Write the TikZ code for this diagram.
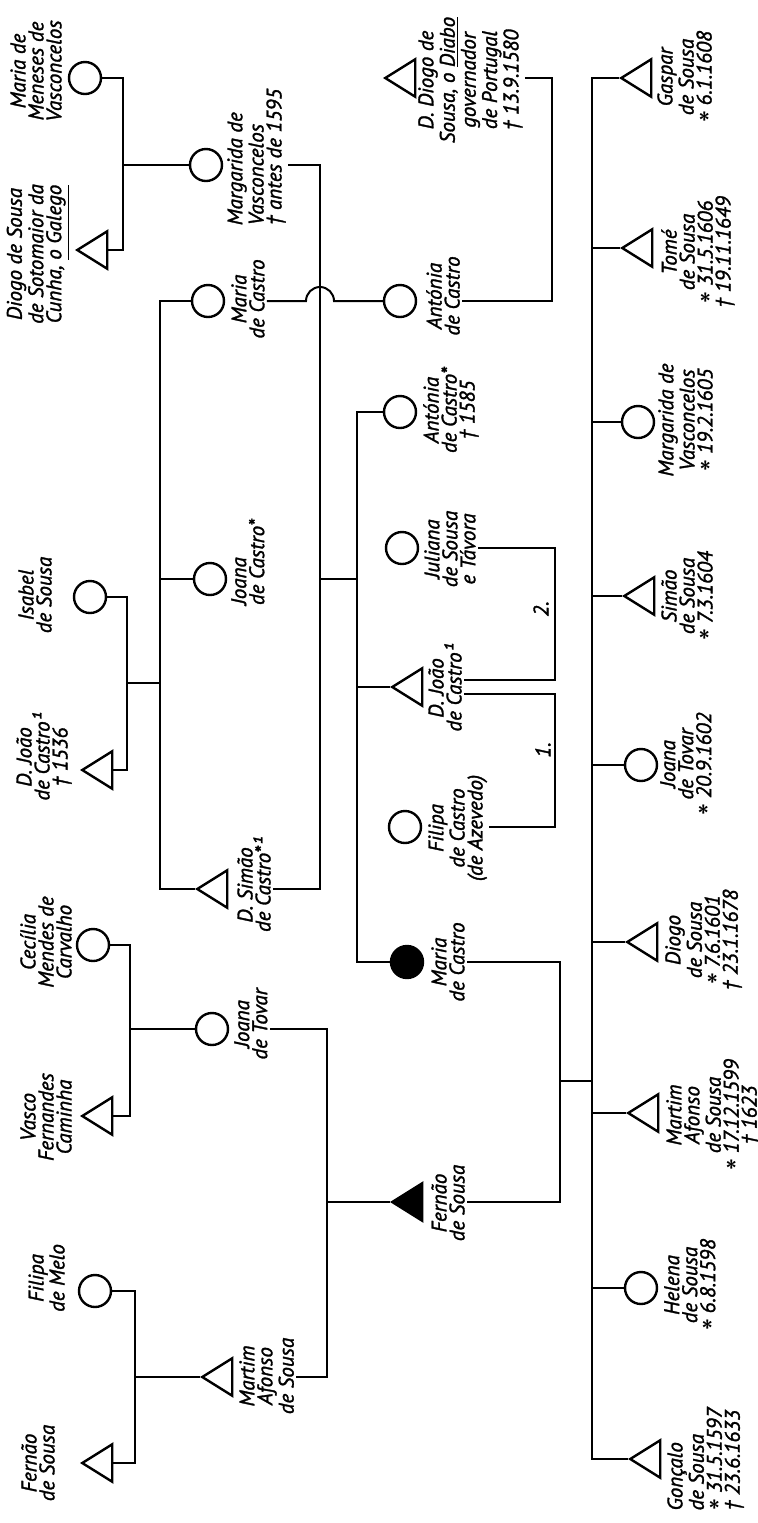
\documentclass[tikz,border=0pt]{standalone}
\usepackage{fontspec}
\setmainfont{PT Sans}[ItalicFeatures={FakeBold=1.5}]
\usepackage{tikz}
\usetikzlibrary{shapes.geometric}

\newcommand{\nat}{\raisebox{-6.3pt}[4pt][0pt]{\upshape\fontsize{17}{17}\selectfont *}}

\begin{document}
\begin{tikzpicture}[x=0.5pt,y=-0.5pt,
  man/.style={isosceles triangle,isosceles triangle apex angle=64,shape border rotate=180,
    draw,line width=1.2pt,inner sep=0pt,minimum width=15pt,minimum height=15pt,anchor=apex},
  woman/.style={circle,draw,line width=1.2pt,inner sep=0pt,minimum size=16pt},
  txt/.style={rotate=90,align=center,inner sep=1pt,font=\itshape\fontsize{10.5}{9}\selectfont},
  rtxt/.style={txt,anchor=north},
  ltxt/.style={txt,anchor=south},
  link/.style={line width=1pt}]
  \useasboundingbox (0,0) rectangle (757,1523);

  % Grandparents
  \node[woman] (mmv) at (85,78) {};
  \node[man] (dsg) at (75,250) {};
  \node[woman] (isa) at (90,597) {};
  \node[man] (jc1) at (80,770) {};
  \node[woman] (cmc) at (93,945) {};
  \node[man] (vfc) at (80,1116) {};
  \node[woman] (fm) at (95,1291) {};
  \node[man] (fs1) at (80,1463) {};
  \node[ltxt] (mmvT) at (64,71) {Maria de\\Meneses de\\Vasconcelos};
  \node[ltxt] (dsgT) at (72,254) {Diogo de Sousa\\de Sotomaior da\\Cunha, \underline{o Galego}};
  \node[ltxt] (isaT) at (54,595) {Isabel\\de Sousa};
  \node[ltxt] (jc1T) at (74,757) {D. João\\de Castro¹\\† 1536};
  \node[ltxt] (cmcT) at (74,942) {Cecília\\Mendes de\\Carvalho};
  \node[ltxt] (vfcT) at (74,1117) {Vasco\\Fernandes\\Caminha};
  \node[ltxt] (fmT) at (67,1278) {Filipa\\de Melo};
  \node[ltxt] (fs1T) at (57,1463) {Fernão\\de Sousa};

  % Parents
  \node[woman] (mv) at (206,165) {};
  \node[woman] (mc1) at (208,301) {};
  \node[woman] (jdc) at (210,579) {};
  \node[man] (dsc) at (195,889) {};
  \node[woman] (jt) at (212,1029) {};
  \node[man] (mas) at (200,1377) {};
  \node[rtxt,align=left] (mvT) at (225,157) {Margarida de\\Vasconcelos\\† antes de 1595};
  \node[rtxt] (mc1T) at (229,299) {Maria\\de Castro};
  \node[rtxt,align=left] (jdcT) at (229,562) {Joana\\de Castro*};
  \node[rtxt] (dscT) at (235,885) {D. Simão\\de Castro*¹};
  \node[rtxt] (jtT) at (232,1024) {Joana\\de Tovar};
  \node[rtxt] (masT) at (237,1376) {Martim\\Afonso\\de Sousa};

  % Castro and Sousa
  \node[man] (dds) at (383,78) {};
  \node[woman] (ac) at (400,301) {};
  \node[woman] (acs) at (400,412) {};
  \node[woman] (jst) at (402,548) {};
  \node[man] (djc) at (390,687) {};
  \node[woman] (fca) at (405,827) {};
  \node[woman,fill=black] (mcf) at (407,962) {};
  \node[man,fill=black] (fs2) at (390,1202) {};
  \node[rtxt] (ddsT) at (416,80) {D. Diogo de\\Sousa, o \underline{Diabo}\\governador\\de Portugal\\† 13.9.1580};
  \node[rtxt] (acT) at (424,296) {Antónia\\de Castro};
  \node[rtxt] (acsT) at (421,410) {Antónia\\de Castro*\\† 1585};
  \node[rtxt] (jstT) at (422,549) {Juliana\\de Sousa\\e Távora};
  \node[rtxt] (djcT) at (426,688) {D. João\\de Castro¹};
  \node[rtxt] (fcaT) at (426,828) {Filipa\\de Castro\\(de Azevedo)};
  \node[rtxt] (mcfT) at (429,962) {Maria\\de Castro};
  \node[rtxt] (fs2T) at (429,1203) {Fernão\\de Sousa};

  % Children
  \node[man] (gas) at (619,78) {};
  \node[man] (tom) at (620,248) {};
  \node[woman] (mvc) at (638,422) {};
  \node[man] (sim) at (622,596) {};
  \node[woman] (jtv) at (641,765) {};
  \node[man] (dio) at (625,942) {};
  \node[man] (maf) at (626,1113) {};
  \node[woman] (hel) at (641,1288) {};
  \node[man] (gon) at (628,1459) {};
  \node[rtxt] (gasT) at (655,77) {Gaspar\\de Sousa\\\nat\ 6.1.1608};
  \node[rtxt] (tomT) at (659,252) {Tomé\\de Sousa\\\nat\ 31.5.1606\\† 19.11.1649};
  \node[rtxt] (mvcT) at (656,420) {Margarida de\\Vasconcelos\\\nat\ 19.2.1605};
  \node[rtxt] (simT) at (659,596) {Simão\\de Sousa\\\nat\ 7.3.1604};
  \node[rtxt] (jtvT) at (658,764) {Joana\\de Tovar\\\nat\ 20.9.1602};
  \node[rtxt] (dioT) at (663,940) {Diogo\\de Sousa\\\nat\ 7.6.1601\\† 23.1.1678};
  \node[rtxt] (mafT) at (664,1115) {Martim\\Afonso\\de Sousa\\\nat\ 17.12.1599\\† 1623};
  \node[rtxt] (helT) at (662,1285) {Helena\\de Sousa\\\nat\ 6.8.1598};
  \node[rtxt,align=left] (gonT) at (665,1459) {Gonçalo\\de Sousa\\\nat\ 31.5.1597\\† 23.6.1633};

  % Junctions
  \coordinate (bGal) at (123,165);
  \coordinate (bCas) at (127,683);
  \coordinate (sCas) at (160,683);
  \coordinate (bCam) at (130,1029);
  \coordinate (bMel) at (135,1377);
  \coordinate (bSim) at (320,579);
  \coordinate (sSim) at (357,579);
  \coordinate (hop) at (320,301);
  \coordinate (bTov) at (327,1202);
  \coordinate (bDia) at (552,190);
  \coordinate (mJ2) at (555,614);
  \coordinate (mJ1) at (555,760);
  \coordinate (bFer) at (560,1081);
  \coordinate (sKid) at (592,1081);

  % Couples of the first generation
  \draw[link] (mmv.east) -| (bGal) |- (dsg.lower side);
  \draw[link] (bGal) -- (mv.west);
  \draw[link] (isa.east) -| (bCas) |- (jc1.lower side);
  \draw[link] (bCas) -- (sCas);
  \draw[link] (mc1.west) -| (sCas) |- (dsc.apex);
  \draw[link] (jdc.west) -- (jdc.west -| sCas);
  \draw[link] (cmc.east) -| (bCam) |- (vfc.lower side);
  \draw[link] (bCam) -- (jt.west);
  \draw[link] (fm.east) -| (bMel) |- (fs1.lower side);
  \draw[link] (bMel) -- (mas.apex);

  % Simao and Margarida
  \draw[link] (mvT.south |- mv) -| (bSim) |- (dscT.south |- dsc.apex);
  \draw[link] (bSim) -- (sSim);
  \draw[link] (acs.west) -| (sSim) |- (mcf.west);
  \draw[link] (djc.apex) -- (djc.apex -| sSim);
  \draw[link] (mc1T.south |- mc1) -- ([xshift=-7pt]hop)
    arc[start angle=180,end angle=0,radius=7pt] -- (ac.west);
  \draw[link] (ddsT.south |- dds.apex) -| (bDia) |- (acT.south |- ac);

  % Joao, married twice
  \draw[link] ([yshift=4pt]djcT.south) -| (mJ2) |- (jstT.south |- jst);
  \draw[link] ([yshift=-3pt]djcT.south) -| (mJ1) |- (fcaT.south |- fca);
  \node[txt] (n2) at (541,609) {2.};
  \node[txt] (n1) at (543,750) {1.};

  % Martim and Joana, Fernao and Maria
  \draw[link] (masT.south |- mas.apex) -| (bTov) |- (jtT.south |- jt);
  \draw[link] (bTov) -- (fs2.apex);
  \draw[link] (mcfT.south |- mcf) -| (bFer) |- (fs2T.south |- fs2.apex);
  \draw[link] (bFer) -- (sKid);
  \draw[link] (gas.apex) -| (sKid) |- (gon.apex);
  \foreach \k/\a in {tom/apex,mvc/west,sim/apex,jtv/west,dio/apex,maf/apex,hel/west}{
    \draw[link] (\k.\a) -- (\k.\a -| sKid);
  }
\end{tikzpicture}
\end{document}
